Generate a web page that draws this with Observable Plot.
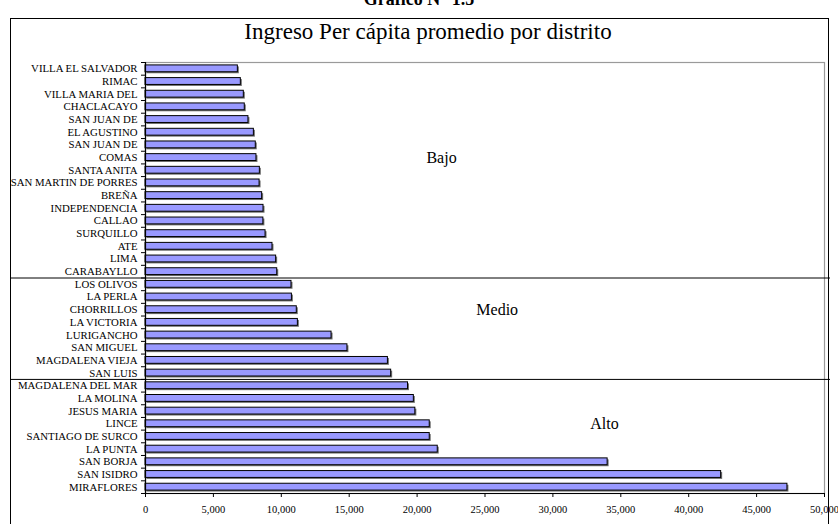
<!DOCTYPE html>
<html>
<head>
<meta charset="utf-8">
<script src="https://cdn.jsdelivr.net/npm/d3@7"></script>
<script src="https://cdn.jsdelivr.net/npm/@observablehq/plot@0.6"></script>
<style>
  html, body { margin: 0; padding: 0; background: #fff; }
  #wrap { position: relative; width: 838px; height: 524px; overflow: hidden; font-family: "Liberation Serif", "Times New Roman", serif; }
  #top { position: absolute; top: -11px; left: 0; width: 838px; text-align: center; font-weight: bold; font-size: 18px; }
  #box { position: absolute; left: 10px; top: 18px; width: 819px; height: 540px; border: 1.5px solid #000; box-sizing: border-box; }
  #title { position: absolute; top: 19px; left: 0; width: 856px; text-align: center; font-size: 23px; }
  #chart { position: absolute; left: 0; top: 0; }
  #chart svg { background: transparent !important; }
</style>
</head>
<body>
<div id="wrap">
  <div id="top">Gráfico N° 1.5</div>
  <div id="box"></div>
  <div id="title">Ingreso Per cápita promedio por distrito</div>
  <div id="chart"></div>
</div>
<script>
const districts = [
  "VILLA EL SALVADOR", "RIMAC", "VILLA MARIA DEL", "CHACLACAYO", "SAN JUAN DE",
  "EL AGUSTINO", "SAN JUAN DE", "COMAS", "SANTA ANITA", "SAN MARTIN DE PORRES",
  "BREÑA", "INDEPENDENCIA", "CALLAO", "SURQUILLO", "ATE", "LIMA", "CARABAYLLO",
  "LOS OLIVOS", "LA PERLA", "CHORRILLOS", "LA VICTORIA", "LURIGANCHO", "SAN MIGUEL",
  "MAGDALENA VIEJA", "SAN LUIS",
  "MAGDALENA DEL MAR", "LA MOLINA", "JESUS MARIA", "LINCE", "SANTIAGO DE SURCO",
  "LA PUNTA", "SAN BORJA", "SAN ISIDRO", "MIRAFLORES"
];
const incomes = [
  6800, 7020, 7240, 7310, 7580,
  7980, 8120, 8170, 8420, 8400,
  8590, 8690, 8680, 8840, 9350, 9620, 9700,
  10750, 10780, 11140, 11220, 13700, 14870,
  17850, 18090,
  19330, 19760, 19870, 20930, 20930,
  21520, 34030, 42390, 47270
];
const levels = ["Bajo", "Medio", "Alto"];
const levelSizes = [17, 8, 9];
const levelLabelX = [21800, 25900, 33800];
const levelLabelRow = [7, 19, 28];
const xTicks = [0, 5000, 10000, 15000, 20000, 25000, 30000, 35000, 40000, 45000, 50000];

const data = districts.map((name, i) => ({i, name, value: incomes[i]}));
const n = data.length;
const cum = d3.cumsum(levelSizes);
const separators = Array.from(cum).slice(0, -1).map(c => c - 0.5);
const labels = levels.map((l, k) => ({label: l, x: levelLabelX[k], y: levelLabelRow[k]}));
const half = 0.27;

const chart = Plot.plot({
  width: 838,
  height: 524,
  marginLeft: 145,
  marginRight: 14,
  marginTop: 62,
  marginBottom: 31,
  style: {fontFamily: "'Liberation Serif', 'Times New Roman', serif", fontSize: "10px", background: "transparent", color: "#000"},
  x: {domain: [0, 50000], label: null},
  y: {domain: [-0.5, n - 0.5], reverse: true, label: null},
  marks: [
    Plot.frame({stroke: "#9a9a9a", strokeWidth: 1.2}),
    Plot.rectX(data, {x1: 0, x2: "value", y1: d => d.i - half, y2: d => d.i + half, fill: "#6e6e6e", dx: 1.5, dy: 1.5}),
    Plot.rectX(data, {x1: 0, x2: "value", y1: d => d.i - half, y2: d => d.i + half, fill: "#9999ff", stroke: "#000", strokeWidth: 1}),
    Plot.ruleY(separators, {stroke: "#000", strokeWidth: 1, insetLeft: -135, insetRight: -6}),
    Plot.ruleX([0], {stroke: "#000", strokeWidth: 1.2}),
    Plot.ruleY([n - 0.5], {stroke: "#000", strokeWidth: 1.2}),
    Plot.axisY(d3.range(-0.5, n, 1), {tickSize: 4, tickFormat: () => "", stroke: "#000", label: null}),
    Plot.axisY(d3.range(n), {tickSize: 0, tickPadding: 8, tickFormat: i => districts[i], fill: "#000", fontSize: 10.8, label: null}),
    Plot.axisX(xTicks, {tickSize: 4, tickPadding: 8, tickFormat: d3.format(","), fill: "#000", stroke: "#000", fontSize: 10.5, label: null}),
    Plot.text(labels, {x: "x", y: "y", text: "label", fontSize: 16, fill: "#000"})
  ]
});
document.getElementById("chart").appendChild(chart);
</script>
</body>
</html>
